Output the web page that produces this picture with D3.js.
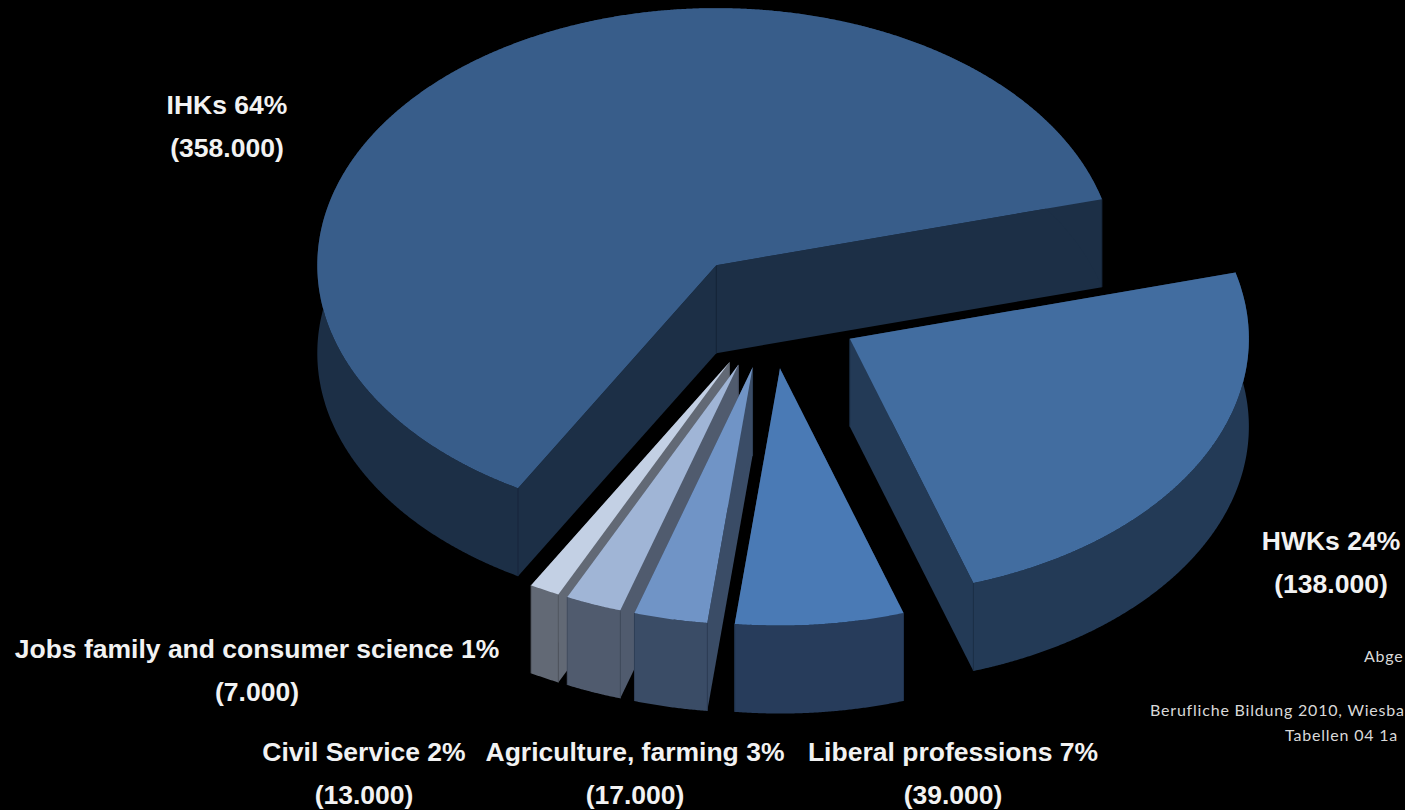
<!DOCTYPE html>
<html>
<head>
<meta charset="utf-8">
<script src="https://cdn.jsdelivr.net/npm/d3@7"></script>
<style>
html, body { margin: 0; padding: 0; background: #000; overflow: hidden; }
svg { display: block; }
.label { font-family: "Liberation Sans", Arial, sans-serif; font-weight: bold; font-size: 26.5px; fill: #f2f2f2; text-anchor: middle; }
.note { font-family: Lato, "Open Sans", sans-serif; font-size: 16px; letter-spacing: 0.8px; fill: #d9d9d9; }
</style>
</head>
<body>
<div id="chart"></div>
<script>
// values
var categories = ["IHKs", "HWKs", "Liberal professions", "Agriculture, farming", "Civil Service", "Jobs family and consumer science"];
var shares = [64, 24, 7, 3, 2, 1];
var trainees = [358000, 138000, 39000, 17000, 13000, 7000];

var topColors = ["#385d8a", "#426da0", "#4a7ab5", "#7094c6", "#a0b5d6", "#c3d0e4"];
var sideColors = ["#1c2f46", "#233a56", "#273c5b", "#3a4c66", "#505b6e", "#626975"];
var seamColors = ["#16253a", "#1c3048", "#20334e", "#2f3f57", "#424c5e", "#50565f"];

// centre of each label block [x, first baseline], same order as categories
var labelPos = [[227, 114], [1331, 550], [953, 761], [635, 761], [364, 761], [257, 658]];
var notes = [
    ["Abge", 1364, 662],
    ["Berufliche Bildung 2010, Wiesba", 1150, 716],
    ["Tabellen 04 1a", 1285, 741]
];

var width = 1405, height = 810,
    cx = 771, cy = 311,     // pie centre before the slices are pulled out
    rx = 399, ry = 257,     // radii of the tilted disc
    depth = 88,
    explode = 0.225,
    startDeg = 209.8;

var X = d3.scaleLinear().domain([-1, 1]).range([cx - rx, cx + rx]),
    Y = d3.scaleLinear().domain([-1, 1]).range([cy - ry, cy + ry]);

var svg = d3.select("#chart").append("svg")
    .attr("width", width)
    .attr("height", height);

svg.append("rect").attr("width", width).attr("height", height).attr("fill", "#000");

var start = startDeg * Math.PI / 180;
var slices = d3.pie().sort(null).startAngle(start).endAngle(start + 2 * Math.PI)(trainees);

function make_slice_points(d) {
    // unit disc coordinates of the pulled out slice: apex and sampled rim
    var mid = (d.startAngle + d.endAngle) / 2,
        ox = explode * Math.sin(mid),
        oy = -explode * Math.cos(mid),
        rim = d3.range(d.startAngle, d.endAngle, 0.004).concat([d.endAngle]).map(function (a) {
            return [ox + Math.sin(a), oy - Math.cos(a)];
        });
    return { apex: [ox, oy], rim: rim };
}

var line = d3.line().x(function (p) { return X(p[0]); }).y(function (p) { return Y(p[1]) + (p[2] || 0); });

function drop(p) { return [p[0], p[1], depth]; }

// back to front, the thin slices overlap each other
var order = [0, 1, 5, 4, 3, 2];
order.forEach(function (i) {
    var pts = make_slice_points(slices[i]),
        rim = pts.rim,
        first = rim[0],
        last = rim[rim.length - 1],
        g = svg.append("g");

    [first, last].forEach(function (end) {
        g.append("path")
            .attr("d", line([pts.apex, end, drop(end), drop(pts.apex)]) + "Z")
            .attr("fill", sideColors[i]);
    });
    g.append("path")
        .attr("d", line(rim.concat(rim.slice().reverse().map(drop))) + "Z")
        .attr("fill", sideColors[i]);

    // seams on the vertical corners
    [pts.apex, first, last].forEach(function (p) {
        g.append("path")
            .attr("d", line([p, drop(p)]))
            .attr("stroke", seamColors[i])
            .attr("stroke-width", 1)
            .attr("fill", "none");
    });

    g.append("path")
        .attr("d", line([pts.apex].concat(rim)) + "Z")
        .attr("fill", topColors[i]);
});

var fmt = d3.formatLocale({ decimal: ",", thousands: ".", grouping: [3], currency: ["", ""] }).format(",");

categories.forEach(function (name, i) {
    svg.append("text")
        .attr("class", "label")
        .attr("x", labelPos[i][0])
        .attr("y", labelPos[i][1])
        .text(name + " " + shares[i] + "%");
    svg.append("text")
        .attr("class", "label")
        .attr("x", labelPos[i][0])
        .attr("y", labelPos[i][1] + 43)
        .text("(" + fmt(trainees[i]) + ")");
});

notes.forEach(function (n) {
    svg.append("text").attr("class", "note").attr("x", n[1]).attr("y", n[2]).text(n[0]);
});
</script>
</body>
</html>
